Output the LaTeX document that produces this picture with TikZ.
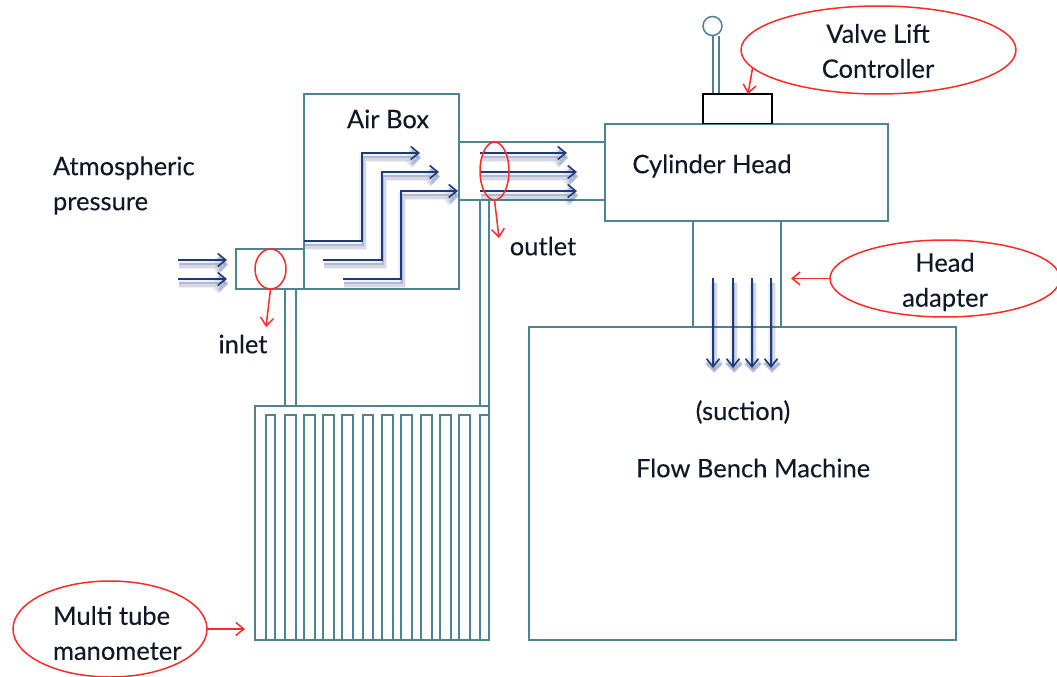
\documentclass[tikz,border=0pt]{standalone}
\usepackage{fontspec}
\setmainfont[FakeBold=0.12]{Lato}
\usetikzlibrary{arrows.meta,shapes.geometric}
\definecolor{pipe}{HTML}{4F838F}
\definecolor{flowblue}{HTML}{1F3A7A}
\definecolor{callred}{HTML}{FF2A2A}
\definecolor{inktext}{HTML}{101828}
\tikzset{
  x=1pt,y=-1pt,
  pipeline/.style={draw=pipe,line width=1.6pt},
  boxshape/.style={pipeline,rectangle,inner sep=0pt,outer sep=0pt,anchor=north west},
  callout/.style={draw=callred,line width=1.5pt,ellipse,inner sep=0pt,outer sep=0pt},
  callarrow/.style={draw=callred,line width=1.5pt,-{Straight Barb[length=8pt,width=13pt]}},
  flowtip/.style={draw=flowblue,line width=1.6pt,-{Straight Barb[length=8pt,width=13pt]}},
  flowshadeC/.style={draw=flowblue,opacity=.07,line width=8pt,shift={(1,5)},-{Straight Barb[length=7pt,width=14pt]}},
  flowshadeA/.style={draw=flowblue,opacity=.13,line width=5pt,shift={(1,5)},-{Straight Barb[length=7pt,width=14pt]}},
  flowshadeB/.style={draw=flowblue,opacity=.2,line width=2.5pt,shift={(1,4)},-{Straight Barb[length=7pt,width=14pt]}},
  label/.style={font=\fontsize{25.5}{35}\selectfont,text=inktext,inner sep=0pt,outer sep=0pt},
}
\newcommand{\flowpath}[1]{\draw[flowshadeC] #1; \draw[flowshadeA] #1; \draw[flowshadeB] #1; \draw[flowtip] #1;}
\begin{document}
\begin{tikzpicture}
\useasboundingbox (0,0) rectangle (1057,677);

% boxes
\node[boxshape,minimum width=155pt,minimum height=195pt] (airbox) at (304,94) {};
\node[boxshape,minimum width=68pt,minimum height=40pt] (inletbox) at (236,249) {};
\node[boxshape,minimum width=146pt,minimum height=58pt] (outletbox) at (459,142) {};
\node[boxshape,fill=white,minimum width=283pt,minimum height=97pt] (head) at (605,124) {};
\node[boxshape,minimum width=88pt,minimum height=106pt] (adapter) at (693,221) {};
\node[boxshape,minimum width=427pt,minimum height=313pt] (bench) at (529,327) {};
\node[boxshape,minimum width=234pt,minimum height=234pt] (mano) at (255,406) {};

% valve lift
\node[draw=pipe,line width=1.5pt,circle,minimum size=19pt,inner sep=0pt,outer sep=0pt] (knob) at (712.5,26) {};
\coordinate (stemAtop) at (713,36);
\coordinate (stemAbot) at (713,94);
\coordinate (stemBtop) at (719,36);
\coordinate (stemBbot) at (719,94);
\draw[pipeline] (stemAtop) -- (stemAbot) (stemBtop) -- (stemBbot);
\node[rectangle,draw=black,line width=1.4pt,inner sep=0pt,outer sep=0pt,anchor=north west,minimum width=69pt,minimum height=29.5pt] (valvebox) at (703,94) {};

% pipes to manometer
\foreach \px in {285,296} \draw[pipeline] (\px,289) -- (\px,406);
\foreach \px in {480,489} \draw[pipeline] (\px,200) -- (\px,406);

% manometer tubes
\foreach \xa/\xb in {266/275,285/296,304/315,323/334,342/353,363/373,382/393,401/412,421/432,440/451,459/470,480/489}
  \draw[pipeline] (\xa,640) -- (\xa,415) -- (\xb,415) -- (\xb,640);

% air flow
\flowpath{(178,260) -- (227,260)}
\flowpath{(178,279) -- (227,279)}
\flowpath{(304,241) -- (362,241) -- (362,153) -- (420,153)}
\flowpath{(323,260) -- (382,260) -- (382,172) -- (439,172)}
\flowpath{(343,279) -- (401,279) -- (401,191) -- (458,191)}
\flowpath{(480,153) -- (567,153)}
\flowpath{(480,172) -- (577,172)}
\flowpath{(480,191) -- (577,191)}
\flowpath{(713,278) -- (713,368)}
\flowpath{(733,278) -- (733,368)}
\flowpath{(752,278) -- (752,368)}
\flowpath{(771,278) -- (771,368)}

% callouts
\node[callout,minimum width=31pt,minimum height=40pt] (inletring) at (270.5,269) {};
\node[callout,minimum width=29pt,minimum height=58pt] (outletring) at (494.5,171) {};
\node[callout,minimum width=275pt,minimum height=88pt] (valvecall) at (878.5,50) {};
\node[callout,minimum width=230pt,minimum height=77pt] (headcall) at (945,278.5) {};
\node[callout,minimum width=194pt,minimum height=96pt] (manocall) at (110,629) {};
\coordinate (inlettip) at (266,327);
\coordinate (outlettip) at (499,238);
\coordinate (valvetip) at (748,94);
\coordinate (headtip) at (791,278.5);
\coordinate (manotip) at (245,629);
\draw[callarrow] (inletring.south) -- (inlettip);
\draw[callarrow] (outletring.south) -- (outlettip);
\draw[callarrow] (valvecall.188) -- (valvetip);
\draw[callarrow] (headcall.west) -- (headtip);
\draw[callarrow] (manocall.east) -- (manotip);

% labels
\node[label,align=left,anchor=west] (atm) at (53,185.5) {Atmospheric\\pressure};
\node[label] (airlabel) at (388,119) {Air Box};
\node[label] (headlabel) at (712,166) {Cylinder Head};
\node[label] (outletlabel) at (543,246) {outlet};
\node[label] (inletlabel) at (243,344) {inlet};
\node[label] (suction) at (743,412) {(suction)};
\node[label] (benchlabel) at (753,468) {Flow Bench Machine};
\node[label,align=center] (valvetext) at (878,51) {Valve Lift\\Controller};
\node[label,align=center] (headtext) at (945,282) {Head\\adapter};
\node[label,align=left,anchor=west] (manotext) at (53,633) {Multi tube\\manometer};
\end{tikzpicture}
\end{document}
